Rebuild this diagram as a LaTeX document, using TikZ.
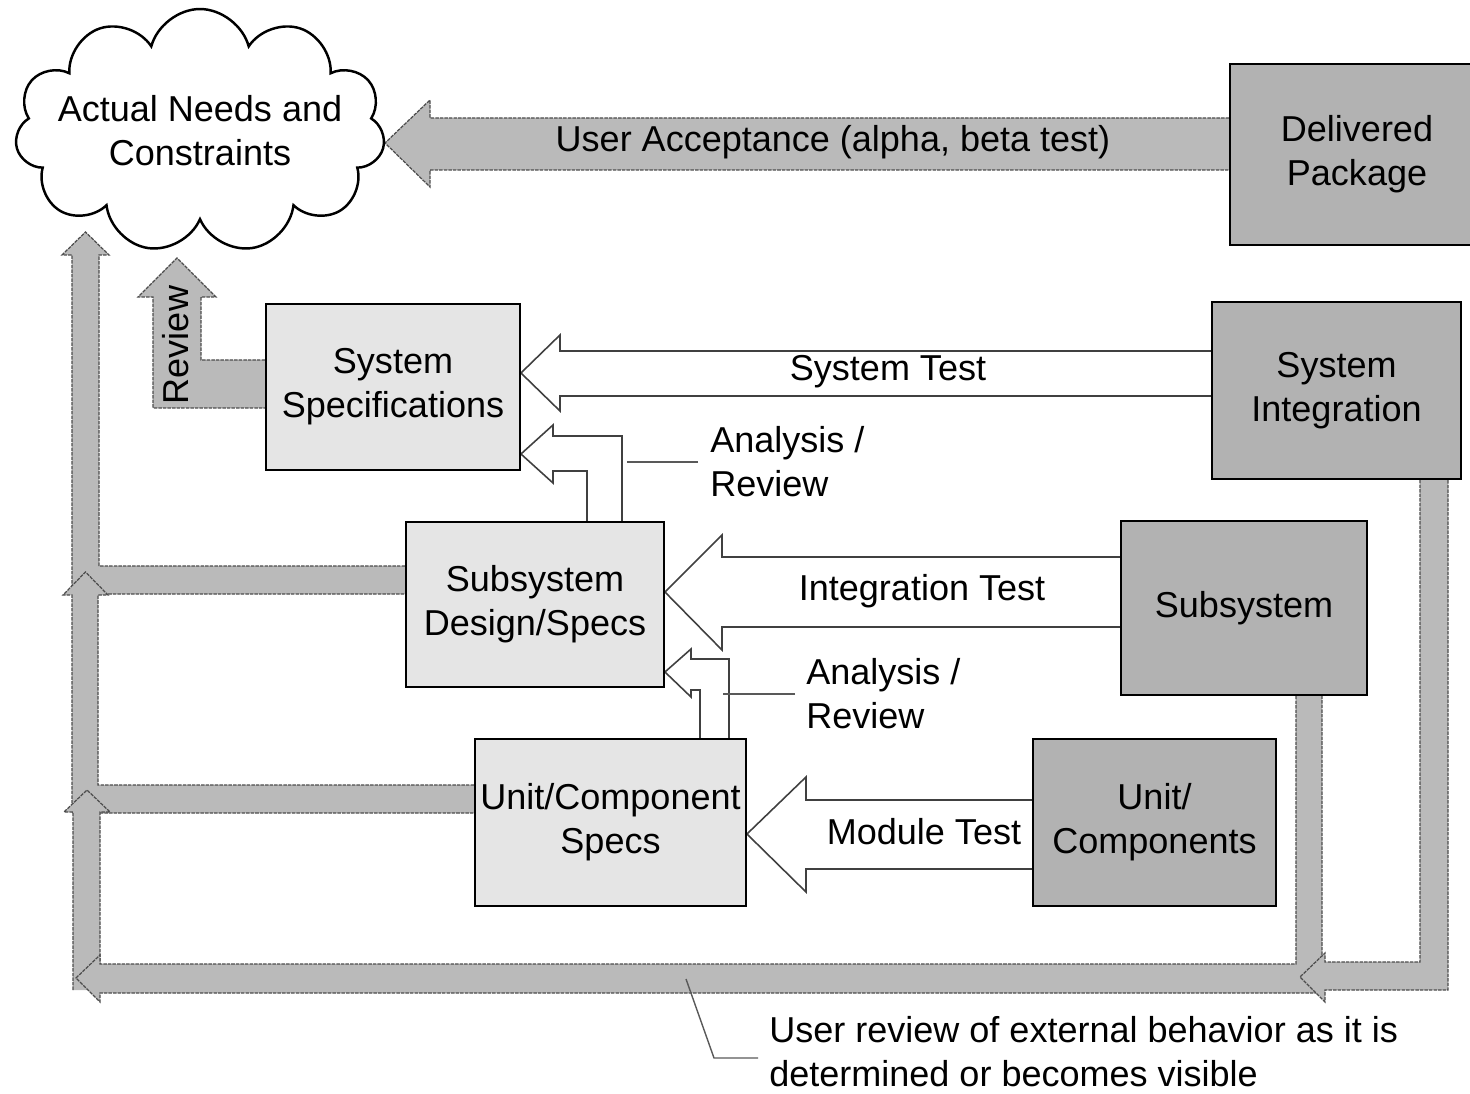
\documentclass[tikz,border=0pt]{standalone}
\usepackage{fontspec}
\setmainfont{Liberation Sans}
\usetikzlibrary{shapes.symbols}
\usetikzlibrary{backgrounds}

\begin{document}
\begin{tikzpicture}[x=0.02cm,y=-0.02cm,
    font=\fontsize{20.5}{25}\selectfont,
    specbox/.style={draw,line width=1.1pt,fill=black!10,align=center,inner sep=0pt},
    testbox/.style={draw,line width=1.1pt,fill=black!30,align=center,inner sep=0pt},
    testarrow/.style={draw=black!75,line width=0.9pt,fill=white},
    userarrow/.style={draw=black!70,line width=0.7pt,dash pattern=on 2pt off 0.6pt,fill=black!27},
    leader/.style={draw=black!65,line width=0.8pt},
    note/.style={align=left,inner sep=0pt}]
      \clip (0,0) rectangle (1470,1094);
      \useasboundingbox (0,0) rectangle (1470,1094);

      % needs and the boxes
      \node[cloud,cloud puffs=11,cloud ignores aspect,draw,line width=1.4pt,fill=white,
            minimum width=7.4cm,minimum height=4.88cm,inner sep=0pt] (needs) at (200,131) {};
      \node[align=center] (needstext) at (needs.center) {Actual Needs and\\Constraints};
      \node[testbox,minimum width=5.08cm,minimum height=3.62cm] (delpkg) at (1357,154.5) {Delivered\\Package};
      \node[specbox,minimum width=5.08cm,minimum height=3.32cm] (sysspec) at (393,387) {System\\Specifications};
      \node[testbox,minimum width=4.98cm,minimum height=3.54cm] (sysint) at (1336.5,390.5) {System\\Integration};
      \node[specbox,minimum width=5.16cm,minimum height=3.30cm] (subdes) at (535,604.5) {Subsystem\\Design/Specs};
      \node[testbox,minimum width=4.92cm,minimum height=3.48cm] (subsys) at (1244,608) {Subsystem};
      \node[specbox,minimum width=5.42cm,minimum height=3.34cm] (unitspec) at (610.5,822.5) {Unit/Component\\Specs};
      \node[testbox,minimum width=4.86cm,minimum height=3.34cm] (units) at (1154.5,822.5) {Unit/\\Components};

      \begin{scope}[on background layer]
      % user acceptance and review
      \draw[userarrow] (delpkg.west |- 0,118) -- (430,118) -- (430,100) -- (385,143) -- (430,187) -- (430,170) -- (delpkg.west |- 0,170);
      \draw[userarrow] (sysspec.west |- 0,360) -- (201,360) -- (201,297) -- (216,297) -- (177,258)
			-- (138,297) -- (153,297) -- (153,408) -- (sysspec.west |- 0,408);

      % tests
      \draw[testarrow] (sysint.west |- 0,351) -- (560,351) -- (560,335) -- (sysspec.east |- 0,373) -- (560,411) -- (560,396) -- (sysint.west |- 0,396);
      \draw[testarrow] (subsys.west |- 0,557) -- (722,557) -- (722,535) -- (subdes.east |- 0,592) -- (722,650) -- (722,627) -- (subsys.west |- 0,627);
      \draw[testarrow] (units.west |- 0,800) -- (806,800) -- (806,777) -- (unitspec.east |- 0,834) -- (806,892) -- (806,869) -- (units.west |- 0,869);

      % analysis / review
      \draw[testarrow] (subdes.north -| 622,0) -- (622,436) -- (553,436) -- (553,425) -- (sysspec.east |- 0,454)
			-- (553,483) -- (553,471) -- (587,471) -- (subdes.north -| 587,0);
      \draw[testarrow] (unitspec.north -| 729,0) -- (729,659) -- (691,659) -- (691,649) -- (subdes.east |- 0,672)
			-- (691,697) -- (691,690) -- (700,690) -- (unitspec.north -| 700,0);

      % user review of external behaviour
      \draw[userarrow] (subdes.west |- 0,566) -- (99,566) -- (99,255) -- (109,255) -- (85.5,232) -- (62,255) -- (72,255) -- (72,594) -- (subdes.west |- 0,594);
      \draw[userarrow] (unitspec.west |- 0,785) -- (98,785) -- (98,595) -- (108,595) -- (85.5,572) -- (63,595) -- (72,595) -- (72,813) -- (unitspec.west |- 0,813);
      \draw[userarrow] (73,990) -- (73,812) -- (64,812) -- (87,790) -- (110,812) -- (100,812) -- (100,990);
      \draw[userarrow] (subsys.south -| 1296,0) -- (1296,964) -- (100,964) -- (100,955) -- (76,978) -- (100,1002) -- (100,993) -- (1322,993) -- (subsys.south -| 1322,0);
      \draw[userarrow] (sysint.south -| 1420,0) -- (1420,962) -- (1325,962) -- (1325,953) -- (1300,977) -- (1325,1002) -- (1325,990) -- (1448,990) -- (sysint.south -| 1448,0);
      \end{scope}

      % labels
      \node (useracc) at (833,142) {User Acceptance (alpha, beta test)};
      \node[rotate=90] (review) at (176,345) {Review};
      \node (systest) at (888,372) {System Test};
      \node (inttest) at (922,591) {Integration Test};
      \node (modtest) at (924,832) {Module Test};
      \node[note,anchor=west] (ana1) at (710,462) {Analysis /\\Review};
      \node[note,anchor=west] (ana2) at (806,694) {Analysis /\\Review};
      \node[note,anchor=west] (extnote) at (769,1052) {User review of external behavior as it is\\determined or becomes visible};
      \draw[leader] (ana1.west) ++(-12,0) -- ++(-71,0);
      \draw[leader] (ana2.west) ++(-11,0) -- ++(-72,0);
      \draw[leader] (extnote.west) ++(-11,6) -- (714,1058) -- (686,979);
\end{tikzpicture}
\end{document}
